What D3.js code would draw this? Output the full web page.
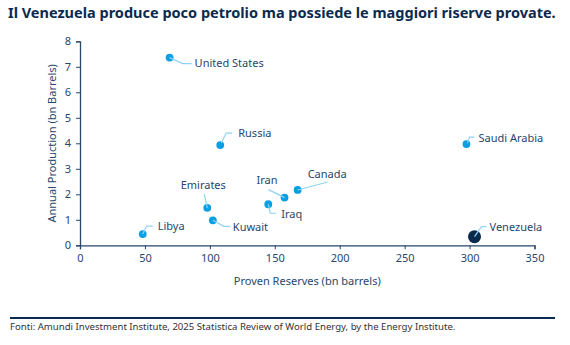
<!DOCTYPE html>
<html>
<head>
<meta charset="utf-8">
<script src="https://cdn.jsdelivr.net/npm/d3@7"></script>
<style>
  body { margin: 0; background: #fff; }
  text { font-family: "Noto Sans", sans-serif; }
</style>
</head>
<body>
<svg id="chart" width="570" height="345"></svg>
<script>
// oil data, bn barrels
const countries  = ["United States", "Russia", "Saudi Arabia", "Canada", "Iran", "Iraq", "Emirates", "Kuwait", "Libya", "Venezuela"];
const reserves   = [69, 108, 297.6, 167.6, 157.5, 145, 98, 102.3, 48.3, 303.8];
const production = [7.36, 3.93, 3.97, 2.17, 1.87, 1.61, 1.47, 0.98, 0.44, 0.34];
const xTicks = [0, 50, 100, 150, 200, 250, 300, 350];
const yTicks = [0, 1, 2, 3, 4, 5, 6, 7, 8];

// leader lines and label anchors, in px from each dot
const leaders = {
  "United States": { path: [[0, 0], [13, 6], [22, 6]], tx: 25, ty: 6, anchor: "start" },
  "Russia":        { path: [[1, -2], [6, -12], [12, -12]], tx: 18, ty: -12, anchor: "start" },
  "Saudi Arabia":  { path: [[1, -1], [3, -7], [8, -7]], tx: 12, ty: -6, anchor: "start" },
  "Canada":        { path: [[0, 0], [30, -8]], tx: 10, ty: -16, anchor: "start" },
  "Iran":          { path: [[0, 0], [-16, -8]], tx: -7, ty: -17, anchor: "end" },
  "Iraq":          { path: [[0, 0], [2, 9], [8, 9]], tx: 13, ty: 10, anchor: "start" },
  "Emirates":      { path: [[0, 0], [-3, -14]], tx: -4, ty: -23, anchor: "middle" },
  "Kuwait":        { path: [[0, 0], [11, 6], [17, 6]], tx: 20, ty: 7, anchor: "start" },
  "Libya":         { path: [[0, 0], [4, -8], [10, -8]], tx: 15, ty: -8, anchor: "start" },
  "Venezuela":     { path: [[0, 0], [7, -10], [12, -10]], tx: 15, ty: -9, anchor: "start" }
};

const navy = "#0b2a4f", ink = "#27476b", blue = "#0a9fe2", pale = "#8fd3f4";

const svg = d3.select("#chart");
const m = { left: 80, right: 35.5, top: 41.3, bottom: 99.7 };
const W = 570, H = 345;

const x = d3.scaleLinear().domain([0, 350]).range([m.left, W - m.right]);
const y = d3.scaleLinear().domain([0, 8]).range([H - m.bottom, m.top]);

svg.append("text")
  .attr("x", 8).attr("y", 18)
  .attr("fill", navy)
  .attr("font-size", 14.5).attr("font-weight", "bold")
  .text("Il Venezuela produce poco petrolio ma possiede le maggiori riserve provate.");

const xAxis = svg.append("g")
  .attr("transform", `translate(0,${H - m.bottom})`)
  .call(d3.axisBottom(x).tickValues(xTicks).tickSize(4).tickPadding(5));
const yAxis = svg.append("g")
  .attr("transform", `translate(${m.left},0)`)
  .call(d3.axisLeft(y).tickValues(yTicks).tickSize(4).tickPadding(5));

[xAxis, yAxis].forEach(g => {
  g.select(".domain").attr("stroke", ink).attr("stroke-width", 1.3);
  g.selectAll(".tick line").attr("stroke", ink).attr("stroke-width", 1);
  g.selectAll(".tick text").attr("fill", ink).attr("font-size", 11)
    .attr("font-family", "Noto Sans, sans-serif");
});

svg.append("text")
  .attr("x", (x(0) + x(350)) / 2).attr("y", 285)
  .attr("text-anchor", "middle").attr("fill", ink).attr("font-size", 11)
  .text("Proven Reserves (bn barrels)");

svg.append("text")
  .attr("transform", `translate(56,${(y(0) + y(8)) / 2}) rotate(-90)`)
  .attr("text-anchor", "middle").attr("fill", ink).attr("font-size", 11)
  .text("Annual Production (bn Barrels)");

const pts = countries.map((c, i) => ({ name: c, r: reserves[i], p: production[i] }));

const line = d3.line();
const marks = svg.append("g");

// dots first, leader lines over them
marks.selectAll("circle").data(pts).join("circle")
  .attr("cx", d => x(d.r)).attr("cy", d => y(d.p))
  .attr("r", d => d.name === "Venezuela" ? 6.5 : 3.9)
  .attr("fill", d => d.name === "Venezuela" ? "#0a2a4d" : blue);

marks.selectAll("path").data(pts).join("path")
  .attr("d", d => line(leaders[d.name].path.map(([dx, dy]) => [x(d.r) + dx, y(d.p) + dy])))
  .attr("fill", "none").attr("stroke", pale).attr("stroke-width", 1.2);

marks.selectAll("text").data(pts).join("text")
  .attr("x", d => x(d.r) + leaders[d.name].tx)
  .attr("y", d => y(d.p) + leaders[d.name].ty)
  .attr("dy", "0.35em")
  .attr("text-anchor", d => leaders[d.name].anchor)
  .attr("fill", ink).attr("font-size", 11)
  .text(d => d.name);

svg.append("line")
  .attr("x1", 10).attr("x2", 555).attr("y1", 318).attr("y2", 318)
  .attr("stroke", navy).attr("stroke-width", 2);

svg.append("text")
  .attr("x", 10).attr("y", 330)
  .attr("fill", "#333").attr("font-size", 9.6)
  .text("Fonti: Amundi Investment Institute, 2025 Statistica Review of World Energy, by the Energy Institute.");
</script>
</body>
</html>
